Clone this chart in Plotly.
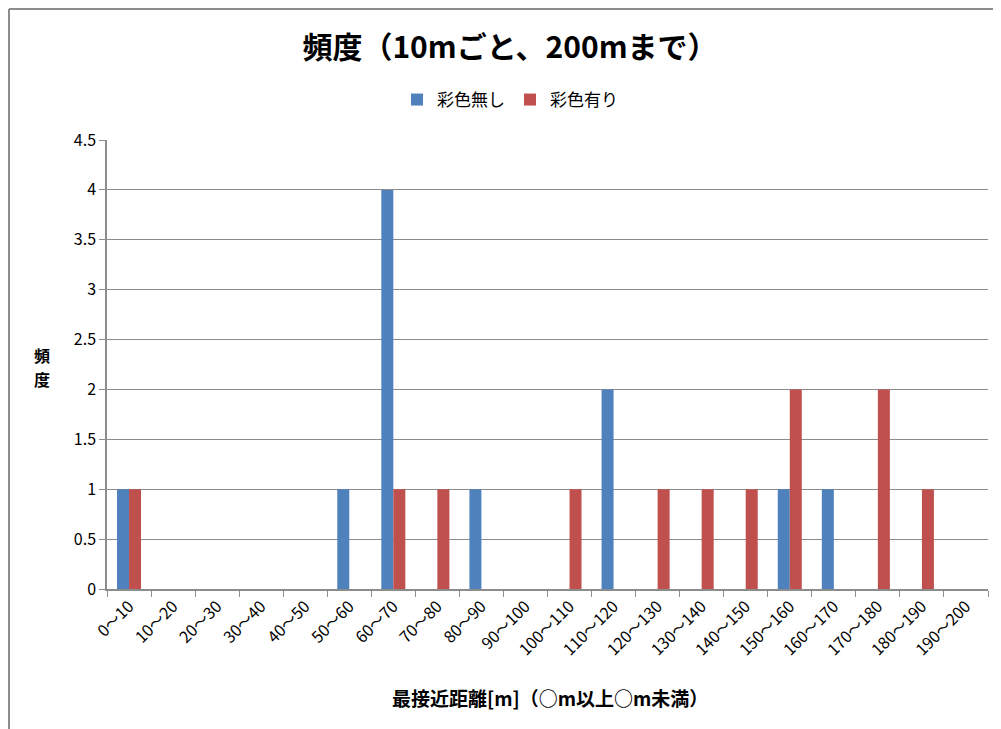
import plotly.graph_objects as go

categories = [f"{lo}～{lo + 10}" for lo in range(0, 200, 10)]
no_color = [1, 0, 0, 0, 0, 1, 4, 0, 1, 0, 0, 2, 0, 0, 0, 1, 1, 0, 0, 0]
with_color = [1, 0, 0, 0, 0, 0, 1, 1, 0, 0, 1, 0, 1, 1, 1, 2, 0, 2, 1, 0]
y_title_chars = ["頻", "度"]

FONT = "Noto Sans CJK JP"
GRID = "#8c8c8c"

# page offset of the plot div (body margin) and target plot area in page pixels
OFF = 8
L, R, T, B = 107, 988, 140, 589
W, H = 1001 - OFF, 729 - OFF
pw, ph = R - L, B - T


def px(x):
    return (x - L) / pw


def py(y):
    return (B - y) / ph


fig = go.Figure()
fig.add_trace(go.Bar(x=categories, y=no_color, name="彩色無し",
                     marker=dict(color="#4F81BD", line=dict(width=0))))
fig.add_trace(go.Bar(x=categories, y=with_color, name="彩色有り",
                     marker=dict(color="#C0504D", line=dict(width=0))))

# vertical y-axis title, one character per line as in the reference
for i, ch in enumerate(y_title_chars):
    fig.add_annotation(text=f"<b>{ch}</b>", x=px(42), y=py(355 + 24 * i), xref="paper",
                       yref="paper", showarrow=False, font=dict(size=16, family=FONT),
                       xanchor="center", yanchor="middle")

fig.add_annotation(text="<b>最接近距離[m]（○m以上○m未満）</b>", x=px(550), y=py(697),
                   xref="paper", yref="paper", showarrow=False,
                   font=dict(size=19, family=FONT), xanchor="center", yanchor="middle")

fig.update_layout(
    width=W, height=H,
    margin=dict(l=L - OFF, r=W - (R - OFF), t=T - OFF, b=H - (B - OFF)),
    paper_bgcolor="white", plot_bgcolor="white",
    font=dict(family=FONT, color="#000", size=16),
    barmode="group", bargap=0.455, bargroupgap=0,
    title=dict(text="<b>頻度（10mごと、200mまで）</b>", x=(510 - OFF) / W, xref="container",
               y=1 - (47 - OFF) / H, yref="container", xanchor="center", yanchor="middle",
               font=dict(size=30, family=FONT)),
    legend=dict(orientation="h", x=px(510), y=py(100), xanchor="center", yanchor="middle",
                font=dict(size=17), itemwidth=30, traceorder="normal"),
    xaxis=dict(type="category", tickangle=-45, showline=True, linecolor=GRID, linewidth=1.5,
               ticks="outside", tickson="boundaries", ticklen=6, tickcolor=GRID,
               showgrid=False, tickfont=dict(size=16, family=FONT)),
    yaxis=dict(range=[0, 4.5], dtick=0.5, showline=True, linecolor=GRID, linewidth=1.5,
               ticks="outside", ticklen=6, tickcolor=GRID, gridcolor=GRID, gridwidth=1,
               zeroline=False, tickfont=dict(size=16, family=FONT)),
    shapes=[
        dict(type="line", xref="paper", yref="paper", x0=px(9), x1=px(1001), y0=py(9), y1=py(9),
             line=dict(color="#8c8c8c", width=2)),
        dict(type="line", xref="paper", yref="paper", x0=px(9), x1=px(9), y0=py(9), y1=py(729),
             line=dict(color="#8c8c8c", width=2)),
    ],
)

fig.write_html("out.html")
